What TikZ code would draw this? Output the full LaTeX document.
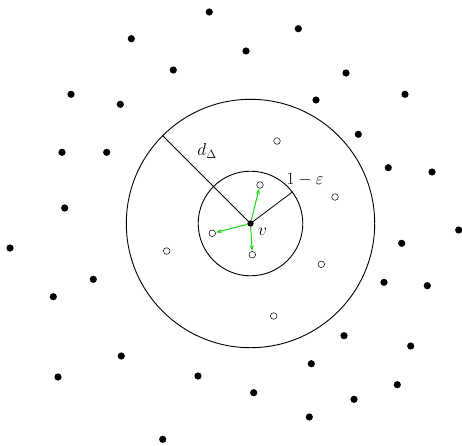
\documentclass[tikz,border=0pt]{standalone}
\usetikzlibrary{arrows.meta}
\definecolor{arrowgreen}{RGB}{20,220,20}
\begin{document}
\begin{tikzpicture}[x=1pt,y=-1pt,
  blackdot/.style={circle,fill=black,inner sep=0pt,minimum size=7.2pt},
  hollow/.style={circle,draw=black,fill=white,line width=0.5pt,inner sep=0pt,minimum size=6.6pt},
  ring/.style={circle,draw=black,line width=0.9pt,inner sep=0pt},
  radius line/.style={draw=black,line width=0.8pt},
  gedge/.style={draw=arrowgreen,line width=1pt,-{Stealth[length=6pt,width=4pt]}},
  lbl/.style={font=\LARGE,inner sep=0pt}]
\useasboundingbox (0,0) rectangle (462,445);
\coordinate (c) at (250.5,223.5);
\node[ring,minimum size=248.4pt] (big) at (c) {};
\node[ring,minimum size=104.6pt] (small) at (c) {};
\draw[radius line] (c) -- (big.135);
\draw[radius line] (c) -- (small.37);
% hollow nodes
\node[hollow] (h1) at (260,185) {};
\node[hollow] (h2) at (212.3,233.3) {};
\node[hollow] (h3) at (252.3,254.7) {};
\node[hollow] (h4) at (277,141) {};
\node[hollow] (h5) at (335,197) {};
\node[hollow] (h6) at (166.7,251) {};
\node[hollow] (h7) at (321.3,264.3) {};
\node[hollow] (h8) at (273.7,316) {};
% center vertex
\node[circle,fill=black,inner sep=0pt,minimum size=6.4pt] (v) at (c) {};
\draw[gedge] (v) -- (h1);
\draw[gedge] (v) -- (h2);
\draw[gedge] (v) -- (h3);
% labels
\node[lbl] (ld) at (207,151) {$d_\Delta$};
\node[lbl] (le) at (305,180) {$1-\varepsilon$};
\node[lbl] (lv) at (262.5,231.5) {$v$};
% black dots
\foreach \x/\y [count=\i] in {209.3/12, 131.3/38.7, 173.3/70, 71/94.3, 120.3/104.3, 62/152.3, 106.7/152.3, 64.7/208,
  298.3/28.7, 246/51, 346/73, 405/94.3, 316/100, 358.3/134.3, 388.3/167.7, 432/172,
  10/248, 93.3/279.3, 53.3/296.7, 121.3/356, 58/377, 198/376, 162.7/439.3,
  458.7/230, 401.7/243.3, 384/282.3, 427.3/285.7, 344/335.7, 410.7/346, 311.3/363.7,
  253.7/392.7, 397.3/384.7, 354/399.3, 309.3/417}
  \node[blackdot] (b\i) at (\x,\y) {};
\end{tikzpicture}
\end{document}
